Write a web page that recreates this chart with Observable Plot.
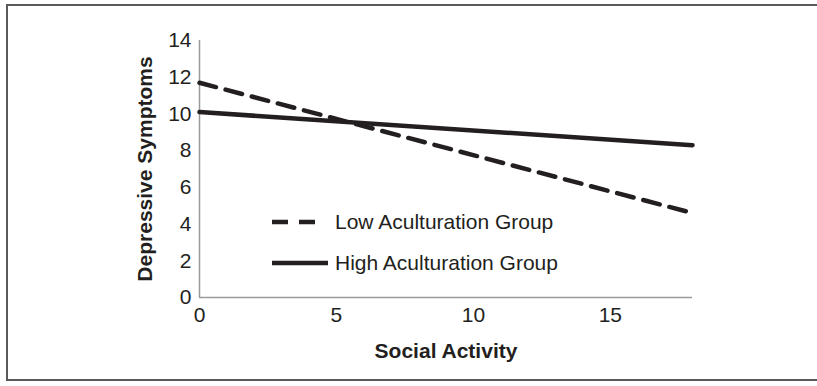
<!DOCTYPE html>
<html>
<head>
<meta charset="utf-8">
<script src="https://cdn.jsdelivr.net/npm/d3@7"></script>
<script src="https://cdn.jsdelivr.net/npm/@observablehq/plot@0.6"></script>
<style>
  html, body { margin: 0; padding: 0; background: #fff; overflow: hidden; }
  #wrap { position: relative; width: 817px; height: 386px; font-family: "Liberation Sans", Arial, sans-serif; color: #231f20; }
  #border { position: absolute; left: 6px; top: 4px; width: 840px; height: 377px; border: 2px solid #5a5a5a; box-sizing: border-box; }
  #chart { position: absolute; left: 0; top: 0; }
  #chart svg text { font-size: 21px; fill: #231f20; }
  #chart svg g[font-weight="bold"] text { font-size: 21px; }
  #legend { position: absolute; left: 270px; top: 210px; font-size: 21px; }
  .row { display: flex; align-items: center; height: 24px; }
  .row svg { display: block; }
</style>
</head>
<body>
<div id="wrap">
  <div id="border"></div>
  <div id="chart"></div>
  <div id="legend"></div>
</div>
<script>
// Data
const socialActivity = [0, 18];
const lowAcculturation = [11.7, 4.6];
const highAcculturation = [10.1, 8.3];
const seriesNames = ["Low Aculturation Group", "High Aculturation Group"];
const xTicks = [0, 5, 10, 15];
const yTicks = [0, 2, 4, 6, 8, 10, 12, 14];

const rows = [];
socialActivity.forEach((x, i) => rows.push({series: seriesNames[0], x, y: lowAcculturation[i]}));
socialActivity.forEach((x, i) => rows.push({series: seriesNames[1], x, y: highAcculturation[i]}));

const ink = "#231f20";
const chart = Plot.plot({
  width: 817,
  height: 386,
  marginLeft: 199,
  marginRight: 125,
  marginTop: 40,
  marginBottom: 89,
  style: {fontFamily: "'Liberation Sans', Arial, sans-serif", color: ink, background: "transparent"},
  x: {domain: [0, 18]},
  y: {domain: [0, 14]},
  marks: [
    Plot.ruleX([0], {stroke: "#9a9a9a", strokeWidth: 1.5}),
    Plot.ruleY([0], {stroke: "#9a9a9a", strokeWidth: 1.5}),
    Plot.axisX({ticks: xTicks, tickSize: 0, tickPadding: 10, label: null}),
    Plot.axisY({ticks: yTicks, tickSize: 0, tickPadding: 8, label: null}),
    Plot.line(rows.filter(d => d.series === seriesNames[0]), {x: "x", y: "y", stroke: ink, strokeWidth: 4.5, strokeDasharray: "17,10"}),
    Plot.line(rows.filter(d => d.series === seriesNames[1]), {x: "x", y: "y", stroke: ink, strokeWidth: 4.5}),
    Plot.text(["Social Activity"], {frameAnchor: "bottom", dy: 60, fontWeight: "bold", fontSize: 21, fill: ink}),
    Plot.text(["Depressive Symptoms"], {frameAnchor: "left", textAnchor: "middle", dx: -54, rotate: -90, fontWeight: "bold", fontSize: 21, fill: ink})
  ]
});
document.getElementById("chart").appendChild(chart);

// Legend
const legend = document.getElementById("legend");
const styles = [{dash: "16,11", w: 48, gap: 17}, {dash: null, w: 58, gap: 7}];
seriesNames.forEach((name, i) => {
  const row = document.createElement("div");
  row.className = "row";
  row.style.marginBottom = i === 0 ? "17px" : "0";
  const st = styles[i];
  row.innerHTML = `<svg width="${st.w + st.gap}" height="10"><line x1="2" x2="${st.w}" y1="5" y2="5" stroke="${ink}" stroke-width="4.5" ${st.dash ? `stroke-dasharray="${st.dash}"` : ""}/></svg><span>${name}</span>`;
  legend.appendChild(row);
});
</script>
</body>
</html>
